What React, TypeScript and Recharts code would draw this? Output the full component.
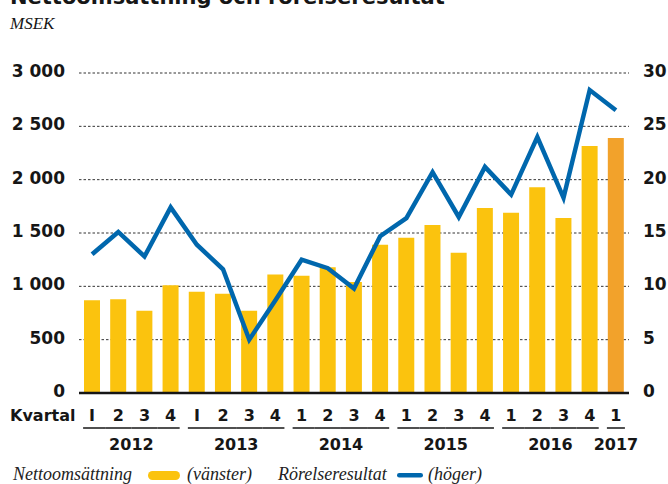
import { Bar, CartesianGrid, Cell, ComposedChart, Line, XAxis, YAxis } from 'recharts';

const quarters = ['I', '2', '3', '4', 'I', '2', '3', '4', '1', '2', '3', '4', '1', '2', '3', '4', '1', '2', '3', '4', '1'];
const years = [2012, 2012, 2012, 2012, 2013, 2013, 2013, 2013, 2014, 2014, 2014, 2014, 2015, 2015, 2015, 2015, 2016, 2016, 2016, 2016, 2017];
// Nettoomsättning, MSEK (vänster)
const netSales = [870, 880, 770, 1010, 950, 930, 770, 1110, 1100, 1180, 1040, 1390, 1455, 1575, 1315, 1735, 1690, 1930, 1640, 2315, 2390];
// Rörelseresultat, MSEK (höger)
const operatingResult = [13.0, 15.1, 12.8, 17.4, 13.9, 11.6, 5.0, 8.7, 12.5, 11.7, 9.8, 14.7, 16.4, 20.7, 16.5, 21.2, 18.6, 24.0, 18.3, 28.4, 26.5];
const leftTicks = [0, 500, 1000, 1500, 2000, 2500, 3000];
const rightTicks = [0, 5, 10, 15, 20, 25, 30];

const YELLOW = '#fbc30e';
const ORANGE = '#f2a22b';
const BLUE = '#0067ad';
const INK = '#161616';
const SANS = '"DejaVu Sans", sans-serif';
const SERIF = '"Liberation Serif", serif';

const data = quarters.map((q, i) => ({
  key: `${years[i]}-${i}`,
  quarter: q,
  year: years[i],
  sales: netSales[i],
  result: operatingResult[i],
}));

const fmt = (v: number) => (v >= 1000 ? `${Math.floor(v / 1000)} ${String(v % 1000).padStart(3, '0')}` : String(v));

function QuarterTick(props: any) {
  const { x, y, payload, index } = props;
  const half = payload?.offset ?? 13;
  const yr = years[index];
  const first = index === 0 || years[index - 1] !== yr;
  const last = index === years.length - 1 || years[index + 1] !== yr;
  const count = years.filter((v) => v === yr).length;
  const x1 = first ? x - 9 : x - half;
  const x2 = last ? x + 9 : x + half;
  return (
    <g>
      <text x={x} y={y + 28} textAnchor="middle" fontFamily={SANS} fontWeight="bold" fontSize={16} fill={INK}>
        {quarters[index]}
      </text>
      <line x1={x1} x2={x2} y1={y + 35} y2={y + 35} stroke={INK} strokeWidth={1.5} />
      {first && (
        <text x={x + (count - 1) * half} y={y + 57} textAnchor="middle" fontFamily={SANS} fontWeight="bold" fontSize={16} fill={INK}>
          {yr}
        </text>
      )}
    </g>
  );
}

export default function App() {
  return (
    <div style={{ position: 'absolute', left: 0, top: 0, width: 668, height: 484, background: '#fff' }}>
      <ComposedChart width={668} height={484} data={data} margin={{ top: 73, right: 0, bottom: 0, left: 0 }} barCategoryGap={0}>
        <CartesianGrid vertical={false} stroke="#333" strokeDasharray="2.5 2" yAxisId="left" />
        <XAxis
          dataKey="key"
          height={91}
          interval={0}
          tickSize={0}
          tickMargin={0}
          axisLine={{ stroke: INK, strokeWidth: 2.5 }}
          tick={<QuarterTick />}
        />
        <YAxis
          yAxisId="left"
          orientation="left"
          width={79}
          domain={[0, 3000]}
          ticks={leftTicks}
          tickFormatter={fmt}
          axisLine={false}
          tickLine={false}
          tickSize={0}
          tickMargin={14}
          tick={{ fontFamily: SANS, fontWeight: 'bold', fontSize: 17, fill: INK, dy: -2 }}
        />
        <YAxis
          yAxisId="right"
          orientation="right"
          width={39}
          domain={[0, 30]}
          ticks={rightTicks}
          axisLine={false}
          tickLine={false}
          tickSize={0}
          tickMargin={14}
          tick={{ fontFamily: SANS, fontWeight: 'bold', fontSize: 17, fill: INK, dy: -2, textAnchor: 'start' }}
        />
        <Bar yAxisId="left" dataKey="sales" barSize={16} isAnimationActive={false}>
          {data.map((d, i) => (
            <Cell key={d.key} fill={i === data.length - 1 ? ORANGE : YELLOW} />
          ))}
        </Bar>
        <Line
          yAxisId="right"
          dataKey="result"
          type="linear"
          stroke={BLUE}
          strokeWidth={4.5}
          strokeLinejoin="miter"
          dot={false}
          activeDot={false}
          isAnimationActive={false}
        />
      </ComposedChart>
      <svg width={668} height={484} style={{ position: 'absolute', left: 0, top: 0, pointerEvents: 'none' }}>
        <text x={10} y={4} fontFamily={SANS} fontWeight="bold" fontSize={21} fill={INK}>
          Nettoomsättning och rörelseresultat
        </text>
        <text x={10} y={29} fontFamily={SERIF} fontStyle="italic" fontSize={17} fill={INK}>
          MSEK
        </text>
        <text x={10} y={421} fontFamily={SANS} fontWeight="bold" fontSize={16} fill={INK}>
          Kvartal
        </text>
        <text x={13} y={480} fontFamily={SERIF} fontStyle="italic" fontSize={18} fill="#222">
          Nettoomsättning
        </text>
        <rect x={148} y={471} width={32} height={9} rx={4.5} fill={YELLOW} />
        <text x={187} y={480} fontFamily={SERIF} fontStyle="italic" fontSize={18} fill="#222">
          (vänster)
        </text>
        <text x={278} y={480} fontFamily={SERIF} fontStyle="italic" fontSize={18} fill="#222">
          Rörelseresultat
        </text>
        <rect x={397} y={473} width={26} height={4.5} rx={2.25} fill={BLUE} />
        <text x={428} y={480} fontFamily={SERIF} fontStyle="italic" fontSize={18} fill="#222">
          (höger)
        </text>
      </svg>
    </div>
  );
}
